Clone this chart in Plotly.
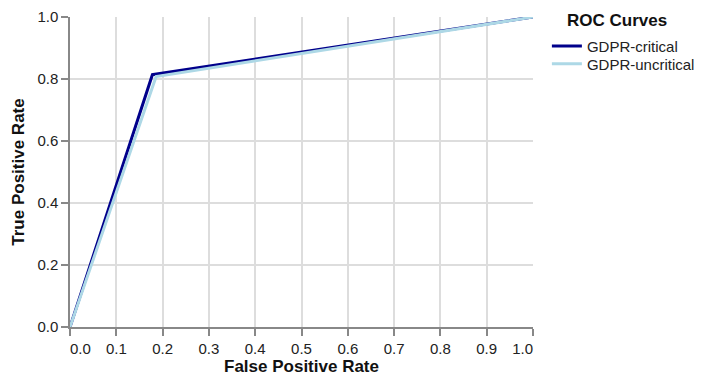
import plotly.graph_objects as go

# Data
series_names = ["GDPR-critical", "GDPR-uncritical"]
fpr_critical = [0.0, 0.178, 1.0]
tpr_critical = [0.0, 0.814, 1.0]
fpr_uncritical = [0.0, 0.186, 1.0]
tpr_uncritical = [0.0, 0.808, 1.0]
colors = ["#00008b", "#add8e6"]
x_ticks = [0.0, 0.1, 0.2, 0.3, 0.4, 0.5, 0.6, 0.7, 0.8, 0.9, 1.0]
y_ticks = [0.0, 0.2, 0.4, 0.6, 0.8, 1.0]
legend_title = "ROC Curves"

FONT = "Liberation Sans, Arial, sans-serif"
NB = "\u00a0"
x_ticktext = [f"{v:.1f}" for v in x_ticks]
x_ticktext[0] = NB * 5 + x_ticktext[0]
x_ticktext[-1] = x_ticktext[-1] + NB * 5

fig = go.Figure()
for name, xs, ys, c, lg in [
    (series_names[0], fpr_critical, tpr_critical, colors[0], "legend"),
    (series_names[1], fpr_uncritical, tpr_uncritical, colors[1], "legend2"),
]:
    fig.add_trace(go.Scatter(x=xs, y=ys, mode="lines", name=name, legend=lg,
                             line=dict(color=c, width=3)))

axis_common = dict(
    showline=True, linecolor="#888", linewidth=1.5,
    showgrid=True, gridcolor="#ddd", gridwidth=1.5,
    ticks="outside", ticklen=7, tickcolor="#888", tickwidth=1.5,
    zeroline=False, automargin=False,
    tickfont=dict(family=FONT, size=15, color="#222"),
)

legend_common = dict(
    font=dict(family=FONT, size=15, color="#222"),
    x=1.030, xanchor="left", xref="paper", yanchor="middle",
    itemwidth=30, bgcolor="rgba(0,0,0,0)",
)

# page body has an 8px margin, so the figure is sized/offset accordingly
fig.update_layout(
    width=697, height=368,
    margin=dict(l=62, r=172, t=9, b=49, autoexpand=False),
    plot_bgcolor="white", paper_bgcolor="white",
    xaxis=dict(range=[0, 1], tickvals=x_ticks, ticktext=x_ticktext,
               title=dict(text="<b>False Positive Rate</b>", standoff=6,
                          font=dict(family=FONT, size=17, color="#111")),
               **axis_common),
    yaxis=dict(range=[0, 1], tickvals=y_ticks,
               ticktext=[f"{v:.1f}" for v in y_ticks],
               title=dict(text="<b>True Positive Rate</b>", standoff=8,
                          font=dict(family=FONT, size=17, color="#111")),
               **axis_common),
    legend=dict(y=0.906, **legend_common),
    legend2=dict(y=0.848, **legend_common),
    showlegend=True,
    annotations=[dict(text=f"<b>{legend_title}</b>", xref="paper", yref="paper",
                      x=1.069, y=0.99, xanchor="left", yanchor="middle",
                      showarrow=False,
                      font=dict(family=FONT, size=17, color="#111"))],
)

fig.write_html("out.html")
